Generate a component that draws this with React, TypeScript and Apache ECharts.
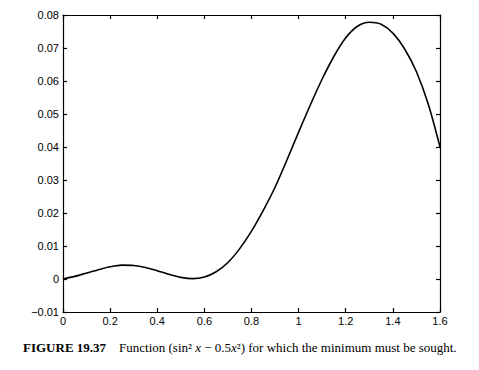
import React, { useEffect, useRef } from "react";
import * as echarts from "echarts";

const xValues = [0, 0.05, 0.1, 0.15, 0.2, 0.25, 0.3, 0.35, 0.4, 0.45, 0.5, 0.55, 0.6, 0.65, 0.7, 0.75, 0.8, 0.85, 0.9, 0.95, 1.0, 1.05, 1.1, 1.15, 1.2, 1.25, 1.3, 1.35, 1.4, 1.45, 1.5, 1.55, 1.6];
const yValues = [0.0, 0.0008, 0.0018, 0.0028, 0.0037, 0.0042, 0.0041, 0.0035, 0.0025, 0.0014, 0.0005, 0.0001, 0.0006, 0.0022, 0.005, 0.0092, 0.0145, 0.0208, 0.0278, 0.036, 0.0445, 0.0528, 0.0606, 0.0675, 0.0731, 0.0766, 0.0778, 0.0772, 0.0745, 0.0697, 0.0628, 0.053, 0.04];
const captionBold = "FIGURE 19.37";
const captionText = ["Function (sin² ", "x", " − 0.5", "x", "²) for which the minimum must be sought."];

const fmt = (v: number) => {
  const r = Math.round(v * 1000) / 1000;
  if (r === 0) return "0";
  const s = String(r);
  return r < 0 ? "−" + s.slice(1) : s;
};

export default function App() {
  const ref = useRef<HTMLDivElement>(null);
  useEffect(() => {
    document.body.style.margin = "0";
    const chart = echarts.init(ref.current!, undefined, { renderer: "svg" });
    const axisFont = { fontFamily: "Liberation Sans", fontSize: 11, color: "#000" };
    const lineStyle = { color: "#000", width: 1.2 };
    chart.setOption({
      animation: false,
      backgroundColor: "#fff",
      grid: { left: 63, top: 15, width: 377, height: 297, containLabel: false },
      xAxis: [
        {
          type: "value", min: 0, max: 1.6, interval: 0.2, position: "bottom",
          axisLine: { show: true, onZero: false, lineStyle },
          axisTick: { show: true, inside: true, length: 4, lineStyle },
          axisLabel: { ...axisFont, margin: 3, formatter: fmt },
          splitLine: { show: false },
        },
        {
          type: "value", min: 0, max: 1.6, interval: 0.2, position: "top",
          axisLine: { show: true, onZero: false, lineStyle },
          axisTick: { show: true, inside: true, length: 4, lineStyle },
          axisLabel: { show: false },
          splitLine: { show: false },
        },
      ],
      yAxis: [
        {
          type: "value", min: -0.01, max: 0.08, interval: 0.01, position: "left",
          axisLine: { show: true, onZero: false, lineStyle },
          axisTick: { show: true, inside: true, length: 4, lineStyle },
          axisLabel: { ...axisFont, margin: 4, formatter: fmt },
          splitLine: { show: false },
        },
        {
          type: "value", min: -0.01, max: 0.08, interval: 0.01, position: "right",
          axisLine: { show: true, onZero: false, lineStyle },
          axisTick: { show: true, inside: true, length: 4, lineStyle },
          axisLabel: { show: false },
          splitLine: { show: false },
        },
      ],
      series: [
        {
          type: "line",
          data: xValues.map((x, i) => [x, yValues[i]]),
          smooth: 0.3,
          showSymbol: false,
          lineStyle: { color: "#000", width: 1.6 },
          xAxisIndex: 0,
          yAxisIndex: 0,
        },
      ],
      graphic: [
        {
          type: "text",
          left: 23,
          top: 341,
          style: {
            text: `{b|${captionBold}}{n|    ${captionText[0]}}{i|${captionText[1]}}{n|${captionText[2]}}{i|${captionText[3]}}{n|${captionText[4]}}`,
            rich: {
              b: { fontFamily: "Liberation Serif", fontSize: 13, fontWeight: "bold", fill: "#000" },
              n: { fontFamily: "Liberation Serif", fontSize: 13, fill: "#000" },
              i: { fontFamily: "Liberation Serif", fontSize: 13, fontStyle: "italic", fill: "#000" },
            },
          },
        },
      ],
    });
    return () => chart.dispose();
  }, []);
  return <div ref={ref} style={{ width: 479, height: 370 }} />;
}
